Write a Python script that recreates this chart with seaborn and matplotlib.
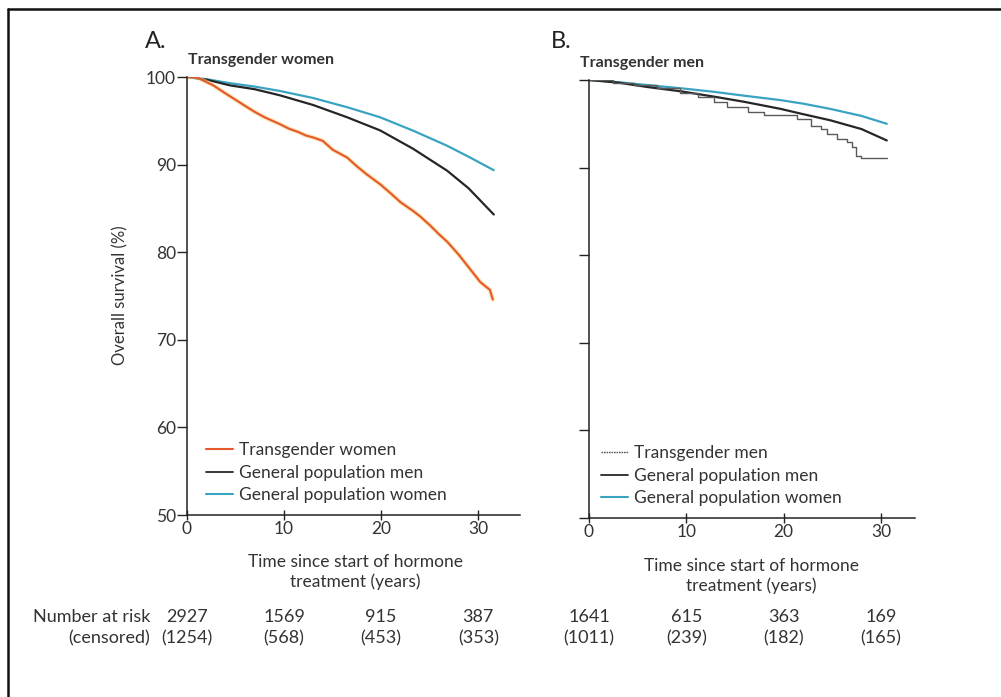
import matplotlib
matplotlib.use("Agg")
import matplotlib.pyplot as plt
import matplotlib.transforms as mtransforms
from matplotlib.lines import Line2D
import seaborn as sns
import pandas as pd

# ---------------- data ----------------
years_ticks = [0, 10, 20, 30]
y_ticks = [50, 60, 70, 80, 90, 100]

# Panel A
tw_t = [0, 1.0, 1.3, 2.7, 4.0, 5.0, 6.2, 7.0, 8.0, 9.0, 9.6, 10.5, 11.5, 12.3, 13.0, 14.0,
        15.0, 16.0, 16.5, 17.5, 18.5, 19.9, 21.0, 22.0, 23.3, 24.0, 25.0, 26.0, 26.8,
        28.0, 29.0, 30.2, 31.2, 31.5]
tw_s = [100, 100, 99.8, 99.05, 98.1, 97.4, 96.55, 96.0, 95.4, 94.9, 94.6, 94.1, 93.7, 93.3,
        93.1, 92.7, 91.7, 91.1, 90.8, 89.8, 88.9, 87.75, 86.7, 85.7, 84.7, 84.1, 83.1, 82.0,
        81.2, 79.7, 78.3, 76.6, 75.7, 74.6]

gpm_a_t = [0, 2.0, 4.4, 7.0, 9.6, 13.0, 16.5, 19.9, 23.3, 26.8, 29.0, 31.6]
gpm_a_s = [100, 99.7, 99.05, 98.6, 97.9, 96.8, 95.4, 93.9, 91.8, 89.3, 87.3, 84.3]

gpw_a_t = [0, 2.0, 4.4, 7.0, 9.6, 13.0, 16.5, 19.9, 23.3, 26.8, 29.0, 31.6]
gpw_a_s = [100, 99.75, 99.3, 98.9, 98.4, 97.6, 96.55, 95.4, 93.87, 92.15, 90.9, 89.36]

# Panel B
tm_t = [0, 0.55, 2.5, 4.65, 7.0, 9.4, 11.15, 12.85, 14.2, 16.3, 18.0, 21.4, 22.8, 23.8,
        24.5, 25.5, 26.5, 27.05, 27.4, 27.9, 30.6]
tm_s = [100, 100, 99.7, 99.42, 99.04, 98.46, 98.08, 97.5, 96.9, 96.35, 95.96, 95.58, 94.8,
        94.4, 93.85, 93.3, 92.9, 92.3, 91.35, 91.05, 91.05]

gpm_b_t = [0, 3.0, 6.0, 9.5, 12.85, 16.0, 19.7, 22.0, 24.8, 28.0, 30.6]
gpm_b_s = [100, 99.7, 99.2, 98.7, 98.1, 97.5, 96.7, 96.1, 95.4, 94.4, 93.1]

gpw_b_t = [0, 3.0, 6.0, 9.5, 12.85, 16.0, 19.7, 22.0, 24.8, 28.0, 30.6]
gpw_b_s = [100, 99.75, 99.42, 99.05, 98.65, 98.2, 97.7, 97.3, 96.7, 95.9, 95.0]

risk_a = [2927, 1569, 915, 387]
cens_a = [1254, 568, 453, 353]
risk_b = [1641, 615, 363, 169]
cens_b = [1011, 239, 182, 165]

labels_a = ["Transgender women", "General population men", "General population women"]
labels_b = ["Transgender men", "General population men", "General population women"]

# ---------------- style ----------------
sns.set_theme(style="ticks")
FONT = ["Lato", "DejaVu Sans"]
NARROW = ["Liberation Sans Narrow", "Lato", "DejaVu Sans"]
plt.rcParams["font.family"] = FONT
plt.rcParams["axes.linewidth"] = 1.1

ORANGE = "#e5582a"
HALO = "#f7d58c"
BLACK = "#262626"
BLUE = "#3aa3c2"
GREY = "#5a5a5a"

W, H = 1001, 697
fig = plt.figure(figsize=(W / 100, H / 100), dpi=100)


def px_axes(left, top, right, bottom):
    return fig.add_axes([left / W, 1 - bottom / H, (right - left) / W, (bottom - top) / H])


axA = px_axes(187, 77, 520, 515)
axB = px_axes(589, 80, 915, 518)

dA_tw = pd.DataFrame({"t": tw_t, "s": tw_s})
dA_m = pd.DataFrame({"t": gpm_a_t, "s": gpm_a_s})
dA_w = pd.DataFrame({"t": gpw_a_t, "s": gpw_a_s})
dB_tm = pd.DataFrame({"t": tm_t, "s": tm_s})
dB_m = pd.DataFrame({"t": gpm_b_t, "s": gpm_b_s})
dB_w = pd.DataFrame({"t": gpw_b_t, "s": gpw_b_s})

# Panel A curves
sns.lineplot(data=dA_w, x="t", y="s", ax=axA, color=BLUE, lw=1.6, estimator=None, sort=False)
sns.lineplot(data=dA_m, x="t", y="s", ax=axA, color=BLACK, lw=1.6, estimator=None, sort=False)
sns.lineplot(data=dA_tw, x="t", y="s", ax=axA, color=HALO, lw=3.2, alpha=0.6, estimator=None, sort=False)
sns.lineplot(data=dA_tw, x="t", y="s", ax=axA, color=ORANGE, lw=1.5, estimator=None, sort=False)

# Panel B curves
sns.lineplot(data=dB_w, x="t", y="s", ax=axB, color=BLUE, lw=1.6, estimator=None, sort=False)
sns.lineplot(data=dB_m, x="t", y="s", ax=axB, color=BLACK, lw=1.6, estimator=None, sort=False)
sns.lineplot(data=dB_tm, x="t", y="s", ax=axB, color=GREY, lw=1.0, estimator=None, sort=False,
             drawstyle="steps-post")

for ax, xmax in ((axA, 34.3), (axB, 33.5)):
    ax.set_xlim(0, xmax)
    ax.set_ylim(50, 100)
    ax.set_xticks(years_ticks)
    ax.set_yticks(y_ticks)
    ax.set_xlabel("")
    ax.set_ylabel("")
    sns.despine(ax=ax)
    ax.spines["left"].set_color("#222222")
    ax.spines["bottom"].set_color("#222222")
    ax.tick_params(axis="x", direction="inout", length=7, width=1.0, color="#222222",
                   labelsize=12.5, pad=1, labelcolor="#333333")
    ax.tick_params(axis="y", direction="out", length=7, width=1.0, color="#222222",
                   labelsize=12.5, pad=1, labelcolor="#333333")

axB.set_yticklabels([])

# Legends
hA = [Line2D([], [], color=ORANGE, lw=1.5), Line2D([], [], color=BLACK, lw=1.3),
      Line2D([], [], color=BLUE, lw=1.5)]
hB = [Line2D([], [], color=GREY, lw=1.0, ls=(0, (1.2, 0.6))), Line2D([], [], color=BLACK, lw=1.3),
      Line2D([], [], color=BLUE, lw=1.5)]
for ax, h, lab, x0 in ((axA, hA, labels_a, 0.02), (axB, hB, labels_b, 0.0)):
    leg = ax.legend(h, lab, loc="lower left", bbox_to_anchor=(x0, 0.0), frameon=False,
                    fontsize=12.5, handlelength=1.55, handletextpad=0.35, labelspacing=0.36,
                    borderaxespad=0.3)
    for t in leg.get_texts():
        t.set_color("#333333")

# Panel letters and titles
fig.text(145 / W, 1 - 41 / H, "A.", fontsize=17, va="center", ha="left", color="#222222")
fig.text(188 / W, 1 - 60 / H, "Transgender women", fontsize=11.5, fontweight="bold",
         va="center", ha="left", color="#333333")
fig.text(551 / W, 1 - 41 / H, "B.", fontsize=17, va="center", ha="left", color="#222222")
fig.text(580 / W, 1 - 63 / H, "Transgender men", fontsize=11.5, fontweight="bold",
         va="center", ha="left", color="#333333")

# Axis labels
fig.text(120 / W, 1 - 295 / H, "Overall survival (%)", rotation=90, fontsize=12,
         va="center", ha="center", color="#333333")
fig.text(355 / W, 1 - 572 / H, "Time since start of hormone\ntreatment (years)", fontsize=12.5,
         va="center", ha="center", linespacing=1.25, color="#333333")
fig.text(751 / W, 1 - 576 / H, "Time since start of hormone\ntreatment (years)", fontsize=12.5,
         va="center", ha="center", linespacing=1.25, color="#333333")

# Number at risk table
fig.text(150 / W, 1 - 617 / H, "Number at risk", fontsize=13, ha="right", va="center",
         family=NARROW, color="#333333")
fig.text(150 / W, 1 - 638 / H, "(censored)", fontsize=13, ha="right", va="center",
         family=NARROW, color="#333333")
for ax, risk, cens in ((axA, risk_a, cens_a), (axB, risk_b, cens_b)):
    tr = mtransforms.blended_transform_factory(ax.transData, fig.transFigure)
    for x, r, c in zip(years_ticks, risk, cens):
        ax.text(x, 1 - 617 / H, f"{r}", transform=tr, ha="center", va="center", fontsize=13,
                family=NARROW, color="#333333", clip_on=False)
        ax.text(x, 1 - 638 / H, f"({c})", transform=tr, ha="center", va="center", fontsize=13,
                family=NARROW, color="#333333", clip_on=False)

# Scan frame (top and left edges)
fig.add_artist(Line2D([8 / W, 8 / W], [0, 1 - 9 / H], color="#111111", lw=1.8,
                      transform=fig.transFigure))
fig.add_artist(Line2D([8 / W, 1], [1 - 9 / H, 1 - 9 / H], color="#111111", lw=1.8,
                      transform=fig.transFigure))

fig.savefig("out.png", dpi=100)
